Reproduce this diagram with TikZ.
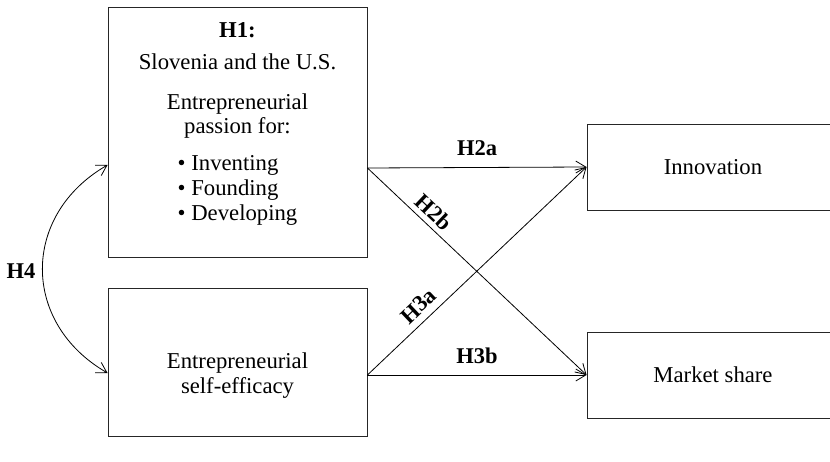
\documentclass[tikz,border=0pt]{standalone}
\usepackage{fontspec}
\setmainfont{Liberation Serif}
\usetikzlibrary{arrows.meta}
\begin{document}
\begin{tikzpicture}[x=1pt,y=-1pt,
  box/.style={draw=black!85, line width=0.9pt, inner sep=0pt, rectangle},
  txt/.style={font=\fontsize{22.7}{24.5}\selectfont, inner sep=0pt, align=center},
  hlab/.style={font=\fontsize{22.5}{24}\selectfont\bfseries, inner sep=0pt},
  arr/.style={line width=0.8pt, -{Straight Barb[length=10pt,width=12pt]}},
  arrboth/.style={line width=0.8pt, {Straight Barb[length=10pt,width=12pt]}-{Straight Barb[length=10pt,width=12pt]}},
]
\useasboundingbox (0,0) rectangle (830,462);
% boxes
\node[box, minimum width=259pt, minimum height=250pt] (b1) at (237.5,132) {};
\node[box, minimum width=259pt, minimum height=148pt] (b2) at (237.5,362) {};
\node[box, txt, minimum width=252pt, minimum height=86pt] (inn) at (713,167) {Innovation};
\node[box, txt, minimum width=252pt, minimum height=86pt] (mkt) at (713,375) {Market share};
% texts
\node[txt, anchor=north] (t1) at (237.5,22) {\textbf{H1:}\\[7.5pt]
  Slovenia and the U.S.\\[15.5pt]
  Entrepreneurial\\
  passion for:\\[12pt]
  \renewcommand{\arraystretch}{1.03}%
  \begin{tabular}[t]{@{}l@{}}• Inventing\\ • Founding\\ • Developing\end{tabular}};
\node[txt, anchor=north] (t2) at (237.5,353) {Entrepreneurial\\ self-efficacy};
% connection points
\coordinate (b1r) at ([yshift=-36pt]b1.east);
\coordinate (b2r) at ([yshift=-13pt]b2.east);
\coordinate (b1l) at ([yshift=-33pt]b1.west);
\coordinate (b2l) at ([yshift=-11pt]b2.west);
% arrows
\draw[arr] (b1r) -- node[hlab, above=11pt] (h2a) {H2a} (inn.west);
\draw[arr] (b1r) -- node[hlab, sloped, above=5pt, pos=0.26] (h2b) {H2b} (mkt.west);
\draw[arr] (b2r) -- node[hlab, sloped, above=7pt, pos=0.28] (h3a) {H3a} (inn.west);
\draw[arr] (b2r) -- node[hlab, above=11pt] (h3b) {H3b} (mkt.west);
\draw[arrboth] (b1l) .. controls (21,215) and (21,323) .. (b2l);
\node[hlab] (h4) at (21,271) {H4};
\end{tikzpicture}
\end{document}
